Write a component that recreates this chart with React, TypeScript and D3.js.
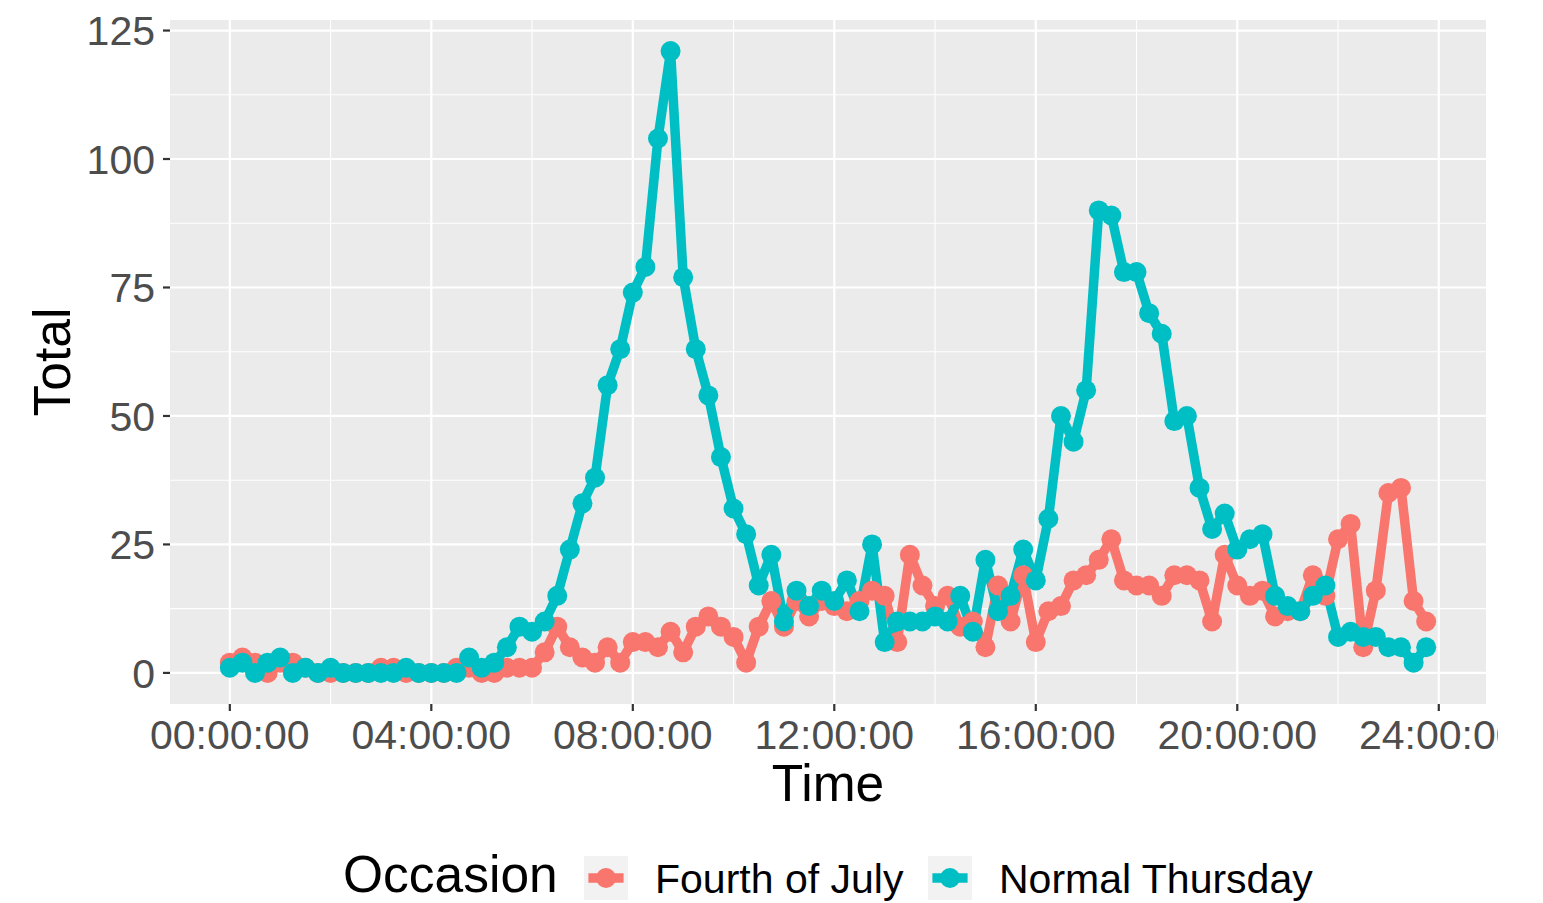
import React from "react";
import * as d3 from "d3";

// quarter-hour slots, 00:00 .. 23:45
const slotCount = 96;

const fourthOfJuly = [
  2, 3, 2, 0, 2, 2, 1, 0, 0, 0, 0, 0, 1, 1, 0, 0, 0, 0, 1, 1, 0, 0, 1, 1,
  1, 4, 9, 5, 3, 2, 5, 2, 6, 6, 5, 8, 4, 9, 11, 9, 7, 2, 9, 14, 9, 14, 11, 14,
  13, 12, 14, 16, 15, 6, 23, 17, 13, 15, 9, 10, 5, 17, 10, 19, 6, 12, 13, 18, 19, 22,
  26, 18, 17, 17, 15, 19, 19, 18, 10, 23, 17, 15, 16, 11, 12, 12, 19, 15, 26, 29, 5, 16,
  35, 36, 14, 10,
];

const normalThursday = [
  1, 2, 0, 2, 3, 0, 1, 0, 1, 0, 0, 0, 0, 0, 1, 0, 0, 0, 0, 3, 1, 2, 5, 9,
  8, 10, 15, 24, 33, 38, 56, 63, 74, 79, 104, 121, 77, 63, 54, 42, 32, 27, 17, 23, 10, 16, 13, 16,
  14, 18, 12, 25, 6, 10, 10, 10, 11, 10, 15, 8, 22, 12, 15, 24, 18, 30, 50, 45, 55, 90,
  89, 78, 78, 70, 66, 49, 50, 36, 28, 31, 24, 26, 27, 15, 13, 12, 15, 17, 7, 8, 7, 7,
  5, 5, 2, 5,
];

const seriesNames = ["Fourth of July", "Normal Thursday"];
const seriesColors = ["#F8766D", "#00BFC4"];

const xTickHours = [0, 4, 8, 12, 16, 20, 24];
const xMinorHours = [2, 6, 10, 14, 18, 22];
const yTicks = [0, 25, 50, 75, 100, 125];
const yMinor = [12.5, 37.5, 62.5, 87.5, 112.5];

const W = 1543;
const H = 903;
const panel = { left: 170, right: 1486, top: 20, bottom: 704 };
const font = "'Liberation Sans', Arial, Helvetica, sans-serif";

const App = () => {
  const hours = d3.range(slotCount).map((i) => i * 0.25);
  const allValues = [...fourthOfJuly, ...normalThursday];

  // ggplot-style 5% expansion
  const xMax = d3.max(hours) as number;
  const xPad = xMax * 0.05;
  const x = d3.scaleLinear().domain([-xPad, xMax + xPad]).range([panel.left, panel.right]);
  const yMaxV = d3.max(allValues) as number;
  const yPad = yMaxV * 0.05;
  const y = d3.scaleLinear().domain([-yPad, yMaxV + yPad]).range([panel.bottom, panel.top]);

  const line = d3
    .line<number>()
    .x((_, i) => x(hours[i]))
    .y((d) => y(d));

  const series = [fourthOfJuly, normalThursday];
  const fmt = (h: number) => `${String(h).padStart(2, "0")}:00:00`;

  const lineW = 9.5;
  const r = 10;

  // legend positions
  const keyTop = 856;
  const keySize = 44;
  const legendItems = [
    { keyX: 584, labelX: 655 },
    { keyX: 928, labelX: 999 },
  ];

  return (
    <div style={{ position: "absolute", left: 0, top: 0 }}>
      <svg width={W} height={H} style={{ display: "block", background: "#fff" }}>
        <defs>
          <clipPath id="xlabClip">
            <rect x={0} y={0} width={1498} height={H} />
          </clipPath>
        </defs>
        <rect
          x={panel.left}
          y={panel.top}
          width={panel.right - panel.left}
          height={panel.bottom - panel.top}
          fill="#EBEBEB"
        />
        {/* minor grid */}
        {yMinor.map((v) => (
          <line key={"ym" + v} x1={panel.left} x2={panel.right} y1={y(v)} y2={y(v)} stroke="#fff" strokeWidth={1.1} />
        ))}
        {xMinorHours.map((h) => (
          <line key={"xm" + h} x1={x(h)} x2={x(h)} y1={panel.top} y2={panel.bottom} stroke="#fff" strokeWidth={1.1} />
        ))}
        {/* major grid */}
        {yTicks.map((v) => (
          <line key={"y" + v} x1={panel.left} x2={panel.right} y1={y(v)} y2={y(v)} stroke="#fff" strokeWidth={2.2} />
        ))}
        {xTickHours.map((h) => (
          <line key={"x" + h} x1={x(h)} x2={x(h)} y1={panel.top} y2={panel.bottom} stroke="#fff" strokeWidth={2.2} />
        ))}

        {/* lines */}
        {series.map((s, k) => (
          <path
            key={"l" + k}
            d={line(s) || ""}
            fill="none"
            stroke={seriesColors[k]}
            strokeWidth={lineW}
            strokeLinejoin="round"
          />
        ))}
        {/* points */}
        {series.map((s, k) => (
          <g key={"p" + k} fill={seriesColors[k]}>
            {s.map((v, i) => (
              <circle key={i} cx={x(hours[i])} cy={y(v)} r={r} />
            ))}
          </g>
        ))}

        {/* y axis */}
        {yTicks.map((v) => (
          <g key={"yt" + v}>
            <line x1={panel.left - 7} x2={panel.left} y1={y(v)} y2={y(v)} stroke="#333" strokeWidth={2.2} />
            <text
              x={155}
              y={y(v)}
              dy="0.36em"
              textAnchor="end"
              fontFamily={font}
              fontSize={41}
              fill="#4D4D4D"
            >
              {v}
            </text>
          </g>
        ))}
        {/* x axis */}
        <g clipPath="url(#xlabClip)">
          {xTickHours.map((h) => (
            <g key={"xt" + h}>
              <line x1={x(h)} x2={x(h)} y1={panel.bottom} y2={panel.bottom + 7} stroke="#333" strokeWidth={2.2} />
              <text
                x={x(h)}
                y={749}
                textAnchor="middle"
                fontFamily={font}
                fontSize={41}
                fill="#4D4D4D"
              >
                {fmt(h)}
              </text>
            </g>
          ))}
        </g>

        {/* axis titles */}
        <text x={(panel.left + panel.right) / 2} y={801} textAnchor="middle" fontFamily={font} fontSize={51.5} fill="#000">
          Time
        </text>
        <text
          transform={`translate(70,${(panel.top + panel.bottom) / 2}) rotate(-90)`}
          textAnchor="middle"
          fontFamily={font}
          fontSize={51.5}
          fill="#000"
        >
          Total
        </text>

        {/* legend */}
        <text x={343} y={892} fontFamily={font} fontSize={51.5} fill="#000">
          Occasion
        </text>
        {legendItems.map((it, k) => (
          <g key={"lg" + k}>
            <rect x={it.keyX} y={keyTop} width={keySize} height={keySize} fill="#F2F2F2" />
            <line
              x1={it.keyX + keySize * 0.1}
              x2={it.keyX + keySize * 0.9}
              y1={keyTop + keySize / 2}
              y2={keyTop + keySize / 2}
              stroke={seriesColors[k]}
              strokeWidth={lineW}
            />
            <circle cx={it.keyX + keySize / 2} cy={keyTop + keySize / 2} r={r} fill={seriesColors[k]} />
            <text x={it.labelX} y={893} fontFamily={font} fontSize={41} fill="#000">
              {seriesNames[k]}
            </text>
          </g>
        ))}
      </svg>
    </div>
  );
};

export default App;
